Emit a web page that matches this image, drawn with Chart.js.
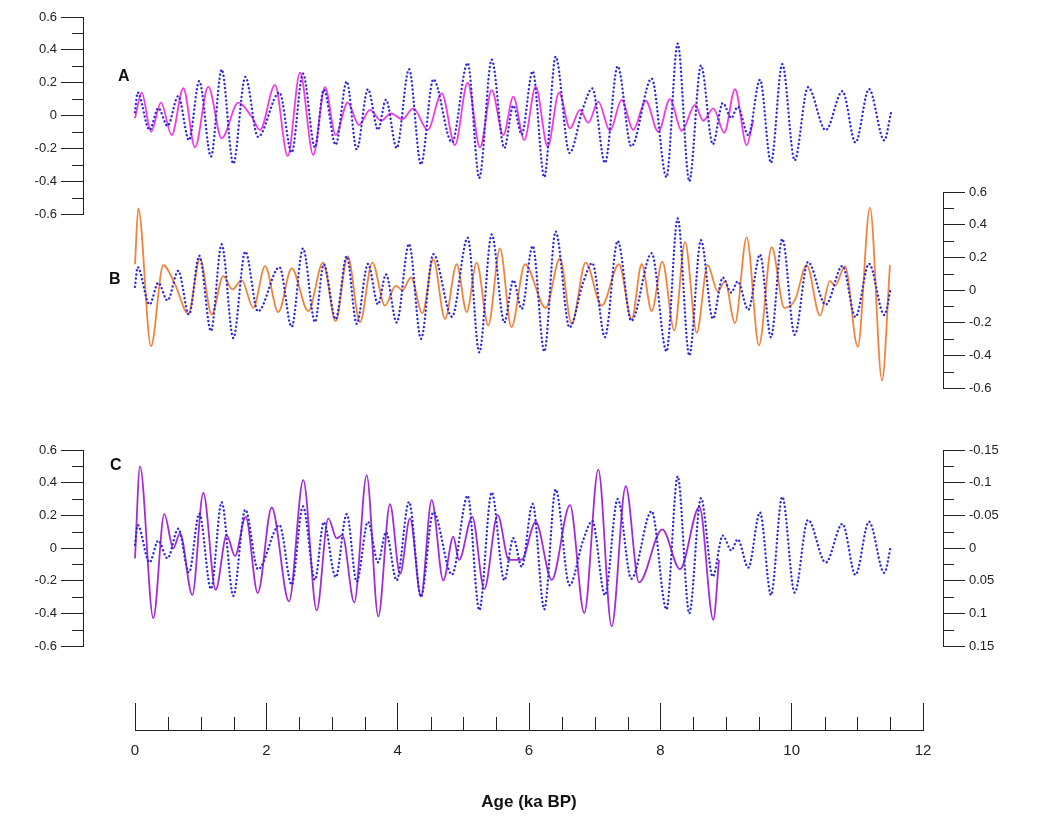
<!DOCTYPE html>
<html>
<head>
<meta charset="utf-8">
<script src="https://cdn.jsdelivr.net/npm/chart.js@4.4.1/dist/chart.umd.min.js"></script>
<style>
  body { margin: 0; background: #fff; width: 1037px; height: 822px; position: relative; overflow: hidden;
         font-family: "Liberation Sans", Arial, sans-serif; }
  canvas { position: absolute; left: 0; }
  .tag { position: absolute; font-weight: bold; font-size: 16px; color: #111; }
</style>
</head>
<body>
<canvas id="chartA" width="1037" height="230" style="top:0px"></canvas>
<canvas id="chartB" width="1037" height="220" style="top:180px"></canvas>
<canvas id="chartC" width="1037" height="230" style="top:430px"></canvas>
<canvas id="chartX" width="1037" height="130" style="top:690px"></canvas>
<div class="tag" style="left:118px;top:67px">A</div>
<div class="tag" style="left:109px;top:270px">B</div>
<div class="tag" style="left:110px;top:456px">C</div>
<script>
// tick labels
const ageTicks = [0, 2, 4, 6, 8, 10, 12];
const leftTicks = [-0.6, -0.4, -0.2, 0, 0.2, 0.4, 0.6];
const cRightTicks = [-0.15, -0.1, -0.05, 0, 0.05, 0.1, 0.15];

// dotted blue record (same in all three panels)
const blueAge = [0, 0.04, 0.221, 0.355, 0.495, 0.659, 0.822, 0.979, 1.157, 1.32, 1.497, 1.68, 1.873,
  2.2, 2.386, 2.558, 2.741, 2.875, 3.056, 3.224, 3.376, 3.548, 3.701, 3.822, 3.985, 4.173, 4.355,
  4.543, 4.827, 5.066, 5.243, 5.432, 5.624, 5.761, 5.889, 6.056, 6.233, 6.406, 6.617, 6.822, 6.964,
  7.157, 7.351, 7.558, 7.868, 8.094, 8.264, 8.441, 8.619, 8.799, 8.951, 9.081, 9.178, 9.34, 9.518,
  9.685, 9.857, 10.046, 10.249, 10.518, 10.774, 10.972, 11.178, 11.41, 11.512];
const blueValue = [0.02, 0.14, -0.088, 0.045, -0.063, 0.118, -0.15, 0.21, -0.25, 0.28, -0.293, 0.235, -0.13,
  0.14, -0.225, 0.255, -0.195, 0.158, -0.178, 0.207, -0.206, 0.16, -0.087, 0.096, -0.198, 0.282, -0.298,
  0.22, -0.163, 0.32, -0.38, 0.34, -0.198, 0.06, -0.115, 0.27, -0.375, 0.358, -0.228, 0.044, 0.165,
  -0.288, 0.3, -0.188, 0.225, -0.375, 0.438, -0.4, 0.305, -0.175, 0.076, -0.015, 0.053, -0.12, 0.218,
  -0.288, 0.313, -0.273, 0.172, -0.089, 0.148, -0.165, 0.161, -0.152, 0.015];

// panel A, magenta
const pinkAge = [0, 0.102, 0.244, 0.396, 0.559, 0.736, 0.914, 1.116, 1.32, 1.573, 1.777, 1.904, 2.132,
  2.325, 2.513, 2.715, 2.893, 3.056, 3.239, 3.411, 3.579, 3.746, 3.898, 4.071, 4.238, 4.457, 4.671,
  4.873, 5.066, 5.254, 5.432, 5.609, 5.761, 5.928, 6.102, 6.285, 6.457, 6.624, 6.777, 6.903, 7.055,
  7.233, 7.412, 7.588, 7.777, 7.969, 8.147, 8.325, 8.528, 8.654, 8.807, 8.974, 9.137, 9.315, 9.416];
const pinkValue = [-0.017, 0.139, -0.099, 0.078, -0.119, 0.166, -0.194, 0.176, -0.139, 0.078, -0.007, -0.088, 0.186,
  -0.247, 0.261, -0.24, 0.172, -0.119, 0.078, -0.058, 0.034, -0.032, 0.013, -0.023, 0.044, -0.088, 0.135,
  -0.18, 0.2, -0.194, 0.155, -0.119, 0.115, -0.149, 0.176, -0.19, 0.139, -0.078, 0.034, -0.044, 0.084,
  -0.093, 0.095, -0.088, 0.09, -0.099, 0.1, -0.093, 0.064, -0.032, 0.044, -0.105, 0.16, -0.18, -0.027];

// panel B, orange
const orangeAge = [0, 0.05, 0.244, 0.431, 0.609, 0.812, 0.99, 1.168, 1.345, 1.482, 1.625, 1.802, 1.98,
  2.182, 2.386, 2.639, 2.863, 3.056, 3.239, 3.426, 3.614, 3.807, 3.97, 4.071, 4.203, 4.375, 4.543,
  4.721, 4.899, 5.051, 5.203, 5.38, 5.558, 5.733, 5.939, 6.254, 6.472, 6.65, 6.863, 7.107, 7.37,
  7.564, 7.716, 7.868, 8.03, 8.213, 8.376, 8.554, 8.721, 8.874, 8.985, 9.137, 9.315, 9.502, 9.696,
  9.888, 10.051, 10.229, 10.431, 10.584, 10.66, 10.812, 11.006, 11.193, 11.376, 11.497];
const orangeValue = [0.158, 0.5, -0.343, 0.152, 0.036, -0.145, 0.194, -0.15, 0.087, 0.004, 0.06, -0.109, 0.147,
  -0.135, 0.133, -0.129, 0.168, -0.19, 0.208, -0.196, 0.168, -0.095, 0.026, 0.0, 0.077, -0.141, 0.188,
  -0.176, 0.158, -0.135, 0.168, -0.216, 0.255, -0.226, 0.158, -0.109, 0.194, -0.206, 0.168, -0.095, 0.158,
  -0.176, 0.158, -0.129, 0.174, -0.247, 0.295, -0.262, 0.153, -0.008, 0.053, -0.202, 0.323, -0.337, 0.262,
  -0.109, -0.06, 0.153, -0.156, 0.057, 0.026, 0.147, -0.347, 0.505, -0.553, 0.153];

// panel C, purple
const purpleAge = [0, 0.076, 0.279, 0.446, 0.583, 0.685, 0.873, 1.04, 1.229, 1.396, 1.523, 1.686, 1.869,
  2.082, 2.345, 2.563, 2.767, 2.944, 3.072, 3.157, 3.34, 3.528, 3.705, 3.883, 4.036, 4.188, 4.355,
  4.518, 4.695, 4.847, 4.934, 5.136, 5.319, 5.523, 5.695, 5.889, 6.102, 6.346, 6.624, 6.842, 7.055,
  7.259, 7.473, 7.675, 8.03, 8.299, 8.596, 8.807, 8.893];
const purpleValue = [-0.063, 0.5, -0.429, 0.207, -0.002, 0.09, -0.287, 0.337, -0.256, 0.079, -0.049, 0.191, -0.276,
  0.248, -0.327, 0.415, -0.382, 0.181, 0.059, 0.079, -0.333, 0.445, -0.419, 0.268, -0.159, 0.181, -0.297,
  0.293, -0.199, 0.069, -0.073, 0.191, -0.252, 0.201, -0.073, -0.071, 0.16, -0.195, 0.262, -0.398, 0.48,
  -0.48, 0.378, -0.211, 0.114, -0.13, 0.252, -0.439, -0.073];

// page geometry
const PX0 = 135, PX12 = 923, AXIS_L = 83, AXIS_R = 943, W = 1037;
const pxPerKa = (PX12 - PX0) / 12;
const xMin = (AXIS_L - PX0) / pxPerKa;
const xMax = 12 + (AXIS_R - PX12) / pxPerKa;
const INK = '#222';

Chart.defaults.font.family = '"Liberation Sans", Arial, sans-serif';
Chart.defaults.color = INK;

function pts(ages, vals) {
  return ages.map((a, i) => ({ x: a, y: vals[i] }));
}

function tickLabel(v) {
  return String(Math.round(v * 1000) / 1000);
}

// short ticks between the labelled ones
const minorTicks = {
  id: 'minorTicks',
  afterDraw(chart, args, opts) {
    const ctx = chart.ctx;
    ctx.save();
    ctx.strokeStyle = INK;
    ctx.lineWidth = 1;
    Object.keys(opts).forEach(id => {
      const scale = chart.scales[id];
      const m = opts[id];
      if (!scale || !m || !m.step) return;
      const n = Math.round((scale.max - scale.min) / m.step);
      ctx.beginPath();
      for (let i = 0; i <= n; i++) {
        if (i % m.every === 0) continue; // major tick already there
        const p = Math.round(scale.getPixelForValue(scale.min + i * m.step)) + 0.5;
        if (scale.isHorizontal()) {
          ctx.moveTo(p, scale.top); ctx.lineTo(p, scale.top - m.length);
        } else if (scale.position === 'left') {
          ctx.moveTo(scale.right, p); ctx.lineTo(scale.right - m.length, p);
        } else {
          ctx.moveTo(scale.left, p); ctx.lineTo(scale.left + m.length, p);
        }
      }
      ctx.stroke();
    });
    ctx.restore();
  }
};

function yAxis(position, ticks, reverse) {
  return {
    type: 'linear',
    position: position,
    min: ticks[0],
    max: ticks[ticks.length - 1],
    reverse: !!reverse,
    afterBuildTicks: s => { s.ticks = ticks.map(v => ({ value: v })); },
    afterFit: s => { s.width = position === 'left' ? AXIS_L : W - AXIS_R; },
    border: { display: true, color: INK, width: 1 },
    grid: { drawOnChartArea: false, tickLength: 22, color: INK },
    ticks: { padding: 4, font: { size: 13 }, color: INK, callback: tickLabel }
  };
}

const hiddenX = { type: 'linear', display: false, min: xMin, max: xMax };

function dotted(data) {
  return {
    data: data, borderColor: '#2b2bdc', borderWidth: 2.4, borderDash: [0.1, 4],
    borderCapStyle: 'round', pointRadius: 0, cubicInterpolationMode: 'monotone', fill: false
  };
}

function solid(data, color) {
  return {
    data: data, borderColor: color, borderWidth: 1.8, pointRadius: 0,
    cubicInterpolationMode: 'monotone', fill: false
  };
}

function baseOptions(padding, scales, minor) {
  return {
    responsive: false,
    animation: false,
    layout: { padding: padding },
    scales: scales,
    plugins: { legend: { display: false }, tooltip: { enabled: false }, minorTicks: minor }
  };
}

// panel A
new Chart(document.getElementById('chartA'), {
  type: 'line',
  data: { datasets: [dotted(pts(blueAge, blueValue)), solid(pts(pinkAge, pinkValue), '#f03ce0')] },
  options: baseOptions({ left: 0, right: W - AXIS_R, top: 17, bottom: 16 },
    { x: hiddenX, y: yAxis('left', leftTicks) },
    { y: { step: 0.1, every: 2, length: 11 } }),
  plugins: [minorTicks]
});

// panel B
new Chart(document.getElementById('chartB'), {
  type: 'line',
  data: { datasets: [dotted(pts(blueAge, blueValue)), solid(pts(orangeAge, orangeValue), '#f0843c')] },
  options: baseOptions({ left: AXIS_L, right: 0, top: 12, bottom: 10 },
    { x: hiddenX, y: yAxis('right', leftTicks) },
    { y: { step: 0.1, every: 2, length: 11 } }),
  plugins: [minorTicks]
});

// panel C
new Chart(document.getElementById('chartC'), {
  type: 'line',
  data: { datasets: [dotted(pts(blueAge, blueValue)), solid(pts(purpleAge, purpleValue), '#a42cd6')] },
  options: baseOptions({ left: 0, right: 0, top: 20, bottom: 14 },
    { x: hiddenX, y: yAxis('left', leftTicks), y2: yAxis('right', cRightTicks, true) },
    { y: { step: 0.1, every: 2, length: 11 }, y2: { step: 0.025, every: 2, length: 11 } }),
  plugins: [minorTicks]
});

// shared age axis
new Chart(document.getElementById('chartX'), {
  type: 'line',
  data: { datasets: [] },
  options: baseOptions({ left: PX0, right: W - PX12, top: 13, bottom: 0 }, {
    x: {
      type: 'linear', position: 'bottom', min: 0, max: 12,
      afterBuildTicks: s => { s.ticks = ageTicks.map(v => ({ value: v })); },
      afterFit: s => { s.height = 90; },
      border: { display: true, color: INK, width: 1 },
      grid: { drawOnChartArea: true, drawTicks: false, color: INK },
      ticks: { padding: 12, font: { size: 15 }, color: INK },
      title: { display: true, text: 'Age (ka BP)', color: '#111',
               font: { size: 17, weight: 'bold' }, padding: { top: 0, bottom: 7 } }
    },
    y: { display: false, min: 0, max: 1 }
  }, { x: { step: 0.5, every: 4, length: 13 } }),
  plugins: [minorTicks]
});
</script>
</body>
</html>
